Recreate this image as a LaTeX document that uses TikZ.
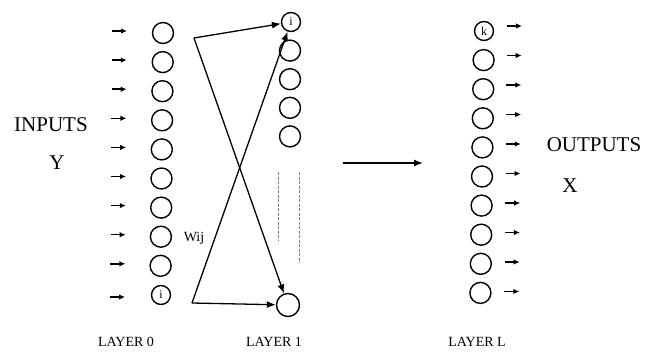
\documentclass[tikz,border=0pt]{standalone}
\usepackage{fontspec}
\setmainfont{Liberation Serif}
\usetikzlibrary{arrows.meta}
\tikzset{
  neuron/.style={circle,draw,line width=1.4pt,minimum size=21pt,inner sep=0pt,font=\fontsize{12}{12}\selectfont},
  sneuron/.style={neuron,minimum size=19pt},
  io/.style={-{Latex[length=6pt,width=5.5pt]},line width=1.5pt},
  conn/.style={-{Latex[length=9pt,width=7pt]},line width=1.3pt},
  big/.style={font=\fontsize{21}{24}\selectfont},
  lay/.style={font=\fontsize{14}{16}\selectfont},
  dashline/.style={draw=gray,line width=0.9pt,dash pattern=on 3pt off 1.5pt}
}
\begin{document}
\begin{tikzpicture}[x=1pt,y=-1pt]
\useasboundingbox (0,0) rectangle (652,356);
% layer 0
\foreach \k in {1,...,9}{
  \node[neuron] (a\k) at ({163-0.3*(\k-1)},{33+29.1*(\k-1)}) {};
  \coordinate (ia\k) at ({112-0.2*(\k-1)},{31+29.1*(\k-1)});
  \draw[io] (ia\k) -- ++(15,0);
}
\node[sneuron] (a10) at (161,295) {i};
\coordinate (ia10) at (110,297);
\draw[io] (ia10) -- ++(15,0);
% layer 1
\node[sneuron] (b1) at (291,22) {i};
\foreach \k in {2,...,5}{
  \node[neuron] (b\k) at (290,{22+28.6*(\k-1)}) {};
}
\node[neuron,minimum size=23pt] (bb) at (288,305) {};
\coordinate (d1) at (278,172); \coordinate (d2) at (278,240);
\coordinate (d3) at (299,172); \coordinate (d4) at (299,263);
\draw[dashline] (d1) -- (d2);
\draw[dashline] (d3) -- (d4);
% connections
\coordinate (A) at (194,38);
\coordinate (B) at (192,303);
\draw[conn] (A) -- (b1);
\draw[conn] (A) -- (bb);
\draw[conn] (B) -- (b1);
\draw[conn] (B) -- (bb);
\node[font=\fontsize{14}{16}\selectfont] (w) at (194,238) {Wij};
% middle arrow
\coordinate (m1) at (343,163); \coordinate (m2) at (423,163);
\draw[conn,line width=1.4pt] (m1) -- (m2);
% layer L
\node[sneuron] (c1) at (484,31) {k};
\foreach \k in {2,...,10}{
  \node[neuron] (c\k) at ({484-0.4*(\k-1)},{31+29.1*(\k-1)}) {};
}
\foreach \k in {1,...,10}{
  \coordinate (oc\k) at ({507-0.3*(\k-1)},{26+29.5*(\k-1)});
  \draw[io] (oc\k) -- ++(15,0);
}
% texts
\node[big] (inp) at (51,125) {INPUTS};
\node[big] (y) at (57,163) {Y};
\node[big] (out) at (594,145) {OUTPUTS};
\node[big] (x) at (570,186) {X};
\node[lay] (l0) at (126,342) {LAYER 0};
\node[lay] (l1) at (274,342) {LAYER 1};
\node[lay] (lL) at (477,342) {LAYER L};
\end{tikzpicture}
\end{document}
